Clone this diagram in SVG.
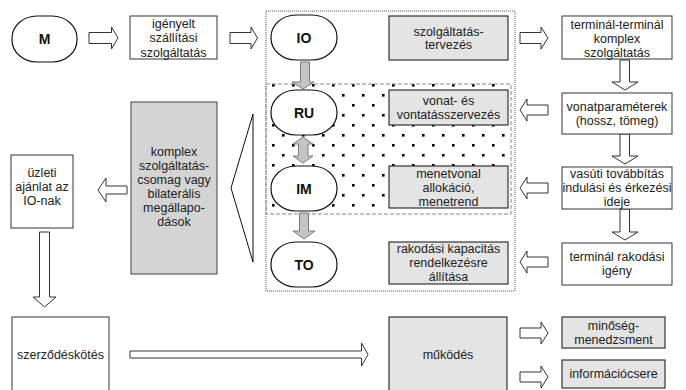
<svg xmlns="http://www.w3.org/2000/svg" width="686" height="390" viewBox="0 0 686 390">
<defs>
<pattern id="dots" x="12" y="4" width="20" height="20" patternUnits="userSpaceOnUse">
<rect x="0" y="0" width="2.6" height="2.6" fill="#000"/>
<rect x="10" y="10" width="2.6" height="2.6" fill="#000"/>
</pattern>
<style>
text{font-family:"Liberation Sans",Arial,sans-serif;font-size:12.5px;fill:#222;text-anchor:middle;dominant-baseline:central}
.b{font-weight:bold;font-size:14px;fill:#111}
.oval{fill:#fff;stroke:#111;stroke-width:1.2}
.box{fill:#fff;stroke:#333;stroke-width:1}
.gbox{fill:#e4e4e4;stroke:#333;stroke-width:1.2}
.dbox{fill:#d4d4d4;stroke:#444;stroke-width:1}
.ha{fill:#fff;stroke:#333;stroke-width:1}
.ga{fill:#c4c4c4;stroke:#7a7a7a;stroke-width:1}
</style>
</defs>
<rect width="686" height="390" fill="#fff"/>

<g id="containers">
<rect x="266" y="11" width="249" height="280" fill="none" stroke="#555" stroke-width="1" stroke-dasharray="1 1"/>
<rect x="266" y="84" width="245" height="130" fill="url(#dots)" stroke="#888" stroke-width="1" stroke-dasharray="4 2"/>
</g>

<g id="connectors">
<path class="ha" d="M89,32.5 H111.5 V27 L118,38 L111.5,49 V43.5 H89 Z"/>
<path class="ha" d="M230,32.5 H251 V27 L257.5,38 L251,49 V43.5 H230 Z"/>
<path class="ha" d="M520,32.5 H541 V27 L548,38 L541,49 V43.5 H520 Z"/>
<path class="ha" d="M620,60 V82 H612 L625,90 L638,82 H629.5 V60 Z"/>
<path class="ha" d="M620,134 V156 H612 L625,164 L638,156 H629.5 V134 Z"/>
<path class="ha" d="M620,209 V232 H612 L625,240 L638,232 H629.5 V209 Z"/>
<path class="ha" d="M548,105 H527 V99 L520,110 L527,121 V115 H548 Z"/>
<path class="ha" d="M548,183 H527 V177 L520,188 L527,199 V193 H548 Z"/>
<path class="ha" d="M548,257 H527 V251 L520,262 L527,273 V267 H548 Z"/>
<path class="ha" d="M127,186 H106 V178 L98,190 L106,202 V194 H127 Z"/>
<path class="ha" d="M39.5,232 V297 H33 L44.5,307 L56,297 H49.5 V232 Z"/>
<path class="ha" d="M130,351 H361.5 V343 L368,354.5 L361.5,366 V358 H130 Z"/>
<path class="ha" d="M520,328 H541 V322 L548,333 L541,344 V338 H520 Z"/>
<path class="ha" d="M520,372 H541 V366 L548,377 L541,388 V382 H520 Z"/>
<path class="ga" d="M300.5,62 V82 H292 L303,89 L314,82 H309.5 V62 Z"/>
<path class="ga" d="M303,137 L313,144 H308 V156 H313 L303,163 L293,156 H298.5 V144 H293 Z"/>
<path class="ga" d="M299.5,213 V231 H293 L304,239 L315,231 H308.5 V213 Z"/>
<path d="M253,114 L231,188 L253,262 Z" fill="#fff" stroke="#111" stroke-width="1"/>
</g>

<g id="M"><rect class="oval" x="12" y="16" width="65" height="46" rx="25" ry="22"/><text class="b" x="44.5" y="39">M</text></g>
<g id="igenyelt"><rect class="box" x="130" y="16" width="87" height="43"/><text x="173.5" y="23.5">igényelt</text><text x="173.5" y="38">szállítási</text><text x="173.5" y="52.5">szolgáltatás</text></g>
<g id="IO"><rect class="oval" x="271" y="15" width="66" height="45" rx="25" ry="22"/><text class="b" x="304" y="38">IO</text></g>
<g id="tervezes"><rect class="gbox" x="389" y="16" width="119" height="44"/><text x="448.5" y="31.5">szolgáltatás-</text><text x="448.5" y="45">tervezés</text></g>
<g id="termterm"><rect class="box" x="562" y="16" width="110" height="43"/><text x="617" y="24.5">terminál-terminál</text><text x="617" y="38.5">komplex</text><text x="617" y="52.5">szolgáltatás</text></g>
<g id="RU"><rect class="oval" x="271" y="90" width="66" height="45" rx="25" ry="22"/><text class="b" x="304" y="113">RU</text></g>
<g id="vonat"><rect class="gbox" x="389" y="90" width="119" height="35"/><text x="448.5" y="101">vonat- és</text><text x="448.5" y="114.5">vontatásszervezés</text></g>
<g id="vonatparam"><rect class="box" x="562" y="93" width="110" height="41"/><text x="617" y="107">vonatparaméterek</text><text x="617" y="121">(hossz, tömeg)</text></g>
<g id="IM"><rect class="oval" x="271" y="166" width="66" height="45" rx="25" ry="22"/><text class="b" x="304" y="189">IM</text></g>
<g id="menetvonal"><rect class="gbox" x="389" y="166" width="119" height="42"/><text x="448.5" y="173.5">menetvonal</text><text x="448.5" y="187.5">allokáció,</text><text x="448.5" y="201.5">menetrend</text></g>
<g id="vasuti"><rect class="box" x="562" y="167" width="110" height="42"/><text x="617" y="174">vasúti továbbítás</text><text x="617" y="188">indulási és érkezési</text><text x="617" y="202">ideje</text></g>
<g id="TO"><rect class="oval" x="271" y="242" width="66" height="45" rx="25" ry="22"/><text class="b" x="304" y="265">TO</text></g>
<g id="rakodasi"><rect class="gbox" x="389" y="242" width="119" height="42"/><text x="448.5" y="249">rakodási kapacitás</text><text x="448.5" y="263">rendelkezésre</text><text x="448.5" y="277">állítása</text></g>
<g id="termrak"><rect class="box" x="562" y="243" width="110" height="42"/><text x="617" y="257">terminál rakodási</text><text x="617" y="271">igény</text></g>
<g id="komplex"><rect class="dbox" x="131" y="102" width="86" height="172"/><text x="174" y="152">komplex</text><text x="174" y="166">szolgáltatás-</text><text x="174" y="180">csomag vagy</text><text x="174" y="194">bilaterális</text><text x="174" y="208">megállapo-</text><text x="174" y="222">dások</text></g>
<g id="uzleti"><rect class="box" x="11" y="155" width="62" height="73"/><text x="42" y="173">üzleti</text><text x="42" y="187">ajánlat az</text><text x="42" y="201">IO-nak</text></g>
<g id="szerzodes"><rect class="box" x="12" y="317" width="97" height="80"/><text x="60.5" y="355">szerződéskötés</text></g>
<g id="mukodes"><rect class="gbox" x="389" y="317" width="118" height="80"/><text x="448" y="355">működés</text></g>
<g id="minoseg"><rect class="gbox" x="562" y="317" width="103" height="31"/><text x="613.5" y="325.5">minőség-</text><text x="613.5" y="339.5">menedzsment</text></g>
<g id="info"><rect class="gbox" x="562" y="360" width="103" height="28"/><text x="613.5" y="374">információcsere</text></g>
</svg>
